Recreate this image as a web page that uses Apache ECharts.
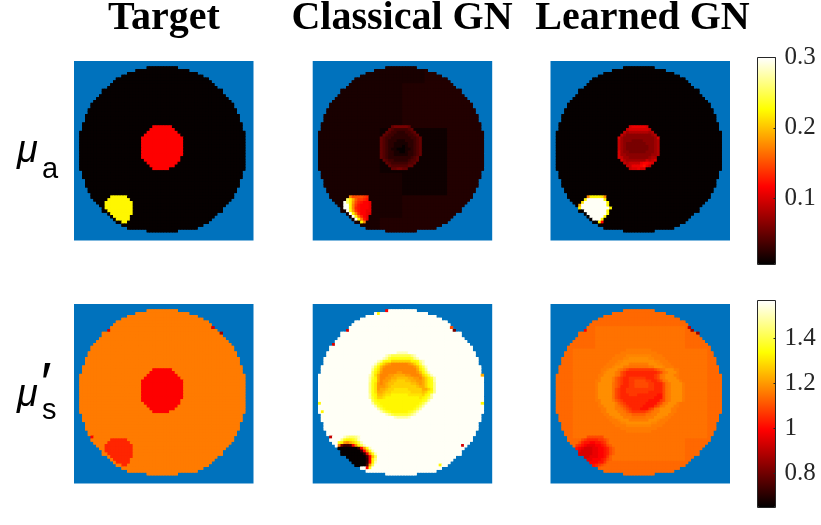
<!DOCTYPE html>
<html>
<head>
<meta charset="utf-8">
<style>html,body{margin:0;padding:0;background:#fff}#c{width:821px;height:525px}</style>
<script src="https://cdn.jsdelivr.net/npm/echarts@6/dist/echarts.min.js"></script>
</head>
<body>
<div id="c"></div>
<script>
const columnTitles = ['Target', 'Classical GN', 'Learned GN'];
const muARange = [0.006, 0.3];
const muSRange = [0.649, 1.569];
const muATicks = [0.1, 0.2, 0.3];
const muSTicks = [0.8, 1, 1.2, 1.4];

// half width of the disc per grid row, from row 2 down to row 60 (centre column 31)
const discFirstRow = 2;
const discHalfWidths = [5,9,12,14,16,17,18,19,21,21,22,23,24,25,25,26,26,27,27,27,28,28,28,29,29,29,29,29,29,29,
  29,29,29,29,29,29,29,28,28,28,27,27,27,26,26,25,25,24,23,22,21,21,19,18,17,16,14,12,5];

// cell values: one character per cell, 0..z = low..high of the colour scale,
// an upper-case letter is half a step above its lower-case one, ':' = 0.5 and ';' = 1.5, '.' = keep background
const targetMuACentre = [
"....ddddddd....","...ddddddddd...","..ddddddddddd..",".ddddddddddddd.","ddddddddddddddd","ddddddddddddddd",
"ddddddddddddddd","ddddddddddddddd","ddddddddddddddd","ddddddddddddddd","ddddddddddddddd","dddddddddddddd.",
".ddddddddddddd.","..ddddddddddd..","...ddddddddd...","....dddddd....."];
const targetMuACorner = [
"...qqqqqq...","..qqqqqqqq..",".qqqqqqqqqq.",".qqqqqqqqqq.",".qqqqqqqqqq.","..qqqqqqqqq.",
"...qqqqqqqq.","....qqqqqq..",".....qqqqq..",".......qq..."];

const classicalMuABackground = [
"11111;;;","1111;;;;","1111;;;;","111:::;;","111:::;;","1111::;;","1111;;;;","111;;;;;"];
const classicalMuACentre = [
"....5666665....","...543333345...","..54332223345..",".5433222223345.","543322222223345","543222111222345",
"543221111122345","543221110122345","543211000112345","543221100122345","543221111122345","54322222222345.",
".5433222223445.","..54333333445..","...544444455...","....556655....."];
const classicalMuACorner = [
"...khhhhgf...","..uqmiggfe..",".zuqlhfeddc.",".zzqkgedddc.",".zzqkfedddc.","..zrlgeddcc.",
"...zqkfddcb.","....zqjfdc..",".....zqjec..",".......qk..."];

const learnedMuACentre = [
"....bcccccb....","...abbbbbbba...","..a8999999989..",".a877777777789.","b8777777777778b","a87776666777789",
"a87666666677789","a87666666667789","a87666666667789","b87766666677789","b88777777777889","ba887777777899.",
".b98888888a9ab.","..a9aaaacddcb..","...aacccdeca...","....abbcbb....."];
const learnedMuACorner = [
"...kqqqqpk...","..qzzzzzzq..",".pzzzzzzzzq.","mzzzzzzzzzq.","qzzzzzzzzzzq","..zzzzzzzzq.",
"...zzzzzzzq.","....zzzzzq..",".....zzzq...",".......qd..."];

const targetMuSCentre = targetMuACentre;
const targetMuSCorner = [
"...ffffff...","..ffffffff..",".ffffffffff.",".ffffffffff.",".ffffffffff.","..fffffffff.",
"...ffffffff.","....ffffff..",".....fffff..",".......ff..."];
const targetMuSSpecks = [[9,12,'b'],[10,52,'8'],[8,49,'b'],[47,6,'d']];

const classicalMuSCentre = [
"..........xxxx..........","......xvtttttttvx.......",".....xvsrrrrrrrsvx......","...xvrqqoooooooqqrvx....",
"..xtqomlkkkkkklmoqtx....",".xtqnlkkkkkkkkkklnqtx...",".vrpmkkkkkkkkkkkkmprv...",".tqolkkkkkllkkkkklnqtx..",
"xtpmkkkllmmmmllkkkloqtx.","wsqmkkllmmnnnnmmllkmoqsw","wrqmkllmnnooonnmmllmoqrw","vrplklmnnoooooonnmlmoqrv",
"vrplllmnooooooooonmmoqrv","vrplmmnoopppppooooommoqv","vrpmmnoopppppppoooonoqrv","wrqnnoppqqqqqqpppppoqrw.",
"wsqoopqqqqqqqqqqqqpqrtw.",".trqqqqqqqqqqqqqqqqrsw..",".wsrqqqqqqqqqqqqqqrtw...","..wsrqqqqqqqqqqqqrtw....",
"...wtrqqqqqqqqqqrtw.....","....xusrqqqqqqrsux......","......xvtssssstvx.......",".........xwwwwx........."];
const classicalMuSCorner = [
"..xvuuvx......",".vrqqrtx......","rqlkmoqtx.....","j6334dkqtx....","00000003dlrx..","000000003dlrx.",
"0000000002clrx","00000000003dnt","00000000002dqv","00000000002dqx","00000000004lt.","..........dr.."];
const classicalMuSSpecks = [[2,26,'d'],[3,23,'q'],[9,12,'b'],[14,7,'b'],[9,50,'6'],[8,49,'h'],[25,60,'m'],
  [35,60,'q'],[35,2,'q'],[38,3,'q'],[47,6,'a'],[50,53,'b'],[57,45,'q']];

const learnedMuSBackground = ["IIIIIIII","IIjjjjII","IjjjjjjI","IjjjjjjI","IjjjjjjI","IjjjjjjI","IIjjjjII","IIIIIIII"];
const learnedMuSCentre = [
"............JJJJJJJJJ............","..........JJJJJJJJJJJJJ..........","........JJJJkkkkkkkkkJJJJ........",
".......JJJJkkKKKKKKKkkJJJJ.......","......JJJkkKKKKKKKKKKKkkJJJ......",".....JJJkkKKKJJJJJJJKKKkkJJJ.....",
"....JJJkKKKJJjjjjjjjJJKKKkJJJ....","...JJkKKKJjihggggggggghijJKKKJJ...","...JkKKKJjhgfffffffffffghjJKKKJ...",
"..JJKKKKJjhgffffffffffghjJKKKJJ..","..JKKKKJihgffggggggfffghjJKKKKJ..",".JJKKKKJihgffgghhhhggffghjJKKKKJ.",
".JKKKKKjihgffgghhhhhggfffhjJKKKKJ",".JKKKKKjihfffgghhhhhggfffhjJKKKKJ",".JKKKKKjhgffggggggggggfffhjJKKKKJ",
".JKKKKKjhgffggggggggfffffhjJKKKKJ",".JKKKKKjhgfffgggfffffffeehjJKKKKJ",".JKKKKKjhgffffffffffffeeehjJKKKKJ",
".JJKKKKJihgfffffffffeeeeghjJKKKKJ","..JKKKKKJihgfffffffeeeeghjJKKKJ..","..JJKKKKJjihgfffffeeeeghjJKKKJJ..",
"...JJKKKJJjihgfffeeeghjJKKKKJJ...","...JJKKKKJJjihggggghijJJKKKKJJ...","....JJKKKKJJjjiiiiijjJJKKKKJJ....",
".....JJkKKKJJJjjjjjJJJKKKkJJ.....","......JJJkKKKJJJJJJJKKKkJJJ......",".......JJJkkKKKKKKKKKkkJJJ.......",
"........JJJJkkkkkkkkkJJJJ........","..........JJJJJJJJJJJJJ..........","............JJJJJJJJJ............"];
const learnedMuSCorner = [
"....hhhhhh....","..hgffffgghi..",".hfeeddeefgi..","gfedcccddefhi.","edcbbbccddefhi","dcbbbbccddefhi",
"cbbbbbccddefhi","bbbbbcccddegi.","bbbcccdddefhi.","bbccddddeegi..","cdddeeefghi...","eeeffgghi....."];
const learnedMuSSpecks = [[10,52,'8'],[9,50,'8'],[8,49,'a'],[9,12,'d']];

const panels = [
  {range: muARange, back: ['0'], patches: [[23,24,targetMuACentre],[48,10,targetMuACorner]], specks: []},
  {range: muARange, back: classicalMuABackground, patches: [[23,24,classicalMuACentre],[48,10,classicalMuACorner]], specks: []},
  {range: muARange, back: ['0'], patches: [[23,24,learnedMuACentre],[48,10,learnedMuACorner]], specks: []},
  {range: muSRange, back: ['J'], patches: [[23,24,targetMuSCentre],[48,10,targetMuSCorner]], specks: targetMuSSpecks},
  {range: muSRange, back: ['z'], patches: [[17,20,classicalMuSCentre],[47,9,classicalMuSCorner]], specks: classicalMuSSpecks},
  {range: muSRange, back: learnedMuSBackground, patches: [[16,15,learnedMuSCentre],[47,9,learnedMuSCorner]], specks: learnedMuSSpecks}
];

const GRID_N = 64;
const gridIndex = Array.from({length: GRID_N}, (_, i) => i);
function level(ch, range) {
  let k;
  if (ch === ':') k = 0.5;
  else if (ch === ';') k = 1.5;
  else k = parseInt(ch, 36) + (ch >= 'A' && ch <= 'Z' ? 0.5 : 0);
  return range[0] + (range[1] - range[0]) * (k + 0.3) / 35.6;
}
function panelCells(p) {
  const m = {};
  discHalfWidths.forEach((hw, i) => {
    const r = i + discFirstRow;
    for (let c = 31 - hw; c <= 31 + hw; c++) {
      m[r + ',' + c] = p.back.length === 1 ? p.back[0] : p.back[r >> 3][c >> 3];
    }
  });
  p.patches.forEach(([r0, c0, rows]) => rows.forEach((s, i) => {
    for (let j = 0; j < s.length; j++) {
      const k = (r0 + i) + ',' + (c0 + j);
      if (s[j] !== '.' && k in m) m[k] = s[j];
    }
  }));
  p.specks.forEach(([r, c, ch]) => { const k = r + ',' + c; if (k in m) m[k] = ch; });
  return Object.keys(m).map(k => {
    const [r, c] = k.split(',').map(Number);
    return [c, r, level(m[k], p.range)];
  });
}

const panelLefts = [74, 312.7, 550.5];
const panelTops = [61, 304];
const panelSize = 179.5;
const hot = ['#000000','#550000','#aa0000','#ff0000','#ff5500','#ffaa00','#ffff00','#ffff80','#ffffff'];
const serif = '"Liberation Serif","Times New Roman",serif';
const sans = '"Liberation Sans",Arial,sans-serif';

const grids = [], xAxes = [], yAxes = [], series = [];
panels.forEach((p, i) => {
  grids.push({left: panelLefts[i % 3], top: panelTops[i < 3 ? 0 : 1], width: panelSize, height: panelSize,
    show: true, backgroundColor: '#0072bd', borderWidth: 0});
  xAxes.push({type: 'category', gridIndex: i, data: gridIndex, show: false});
  yAxes.push({type: 'category', gridIndex: i, data: gridIndex, inverse: true, show: false});
  const cells = panelCells(p);
  // drawn twice so the fractional cell edges leave no seam of the blue backdrop
  for (let layer = 0; layer < 2; layer++) {
    series.push({type: 'heatmap', xAxisIndex: i, yAxisIndex: i, data: cells, silent: true,
      progressive: 0, animation: false, emphasis: {disabled: true}});
  }
});

const bars = [
  {range: muARange, ticks: muATicks, top: 57.5},
  {range: muSRange, ticks: muSTicks, top: 300.5}
];
bars.forEach((b) => {
  const gi = grids.length;
  grids.push({left: 757.5, top: b.top, width: 18, height: 207, show: true, backgroundColor: 'transparent',
    borderColor: '#262626', borderWidth: 1, z: 10});
  xAxes.push({type: 'category', gridIndex: gi, data: ['bar'], show: false});
  yAxes.push({type: 'value', gridIndex: gi, position: 'right', min: b.range[0], max: b.range[1], z: 10,
    splitLine: {show: false}, axisLine: {show: false},
    axisTick: {show: true, inside: true, length: 2, customValues: b.ticks, lineStyle: {color: '#262626'}},
    axisLabel: {show: true, margin: 9, color: '#262626', fontFamily: serif, fontSize: 25, showMinLabel: true, showMaxLabel: true,
      customValues: b.ticks, formatter: v => String(v), hideOverlap: false}});
});

const option = {
  backgroundColor: '#ffffff',
  animation: false,
  title: columnTitles.map((t, i) => ({
    text: t, left: [164, 402, 642.5][i], top: -1, textAlign: 'center', padding: 0,
    textStyle: {fontFamily: serif, fontWeight: 'bold', fontSize: 40, color: '#000'}
  })),
  grid: grids, xAxis: xAxes, yAxis: yAxes, series,
  visualMap: [
    {type: 'continuous', min: muARange[0], max: muARange[1], seriesIndex: [0,1,2,3,4,5], inRange: {color: hot},
     left: 757.5, top: 57.5, itemWidth: 18, itemHeight: 207, padding: 0, text: null, calculable: false, hoverLink: false, showLabel: false},
    {type: 'continuous', min: muSRange[0], max: muSRange[1], seriesIndex: [6,7,8,9,10,11], inRange: {color: hot},
     left: 757.5, top: 300.5, itemWidth: 18, itemHeight: 207, padding: 0, text: null, calculable: false, hoverLink: false, showLabel: false}
  ],
  graphic: [
    {type: 'text', left: 17, top: 132, style: {text: 'μ', font: 'italic 38px ' + sans, fill: '#000'}},
    {type: 'text', left: 42, top: 155, style: {text: 'a', font: '29px ' + sans, fill: '#000'}},
    {type: 'text', left: 17, top: 376, style: {text: 'μ', font: 'italic 38px ' + sans, fill: '#000'}},
    {type: 'text', left: 42, top: 396, style: {text: 's', font: '29px ' + sans, fill: '#000'}},
    {type: 'text', left: 38, top: 358, style: {text: '′', font: 'italic 58px ' + sans, fill: '#000'}}
  ]
};
echarts.init(document.getElementById('c'), null, {renderer: 'canvas'}).setOption(option);
</script>
</body>
</html>
